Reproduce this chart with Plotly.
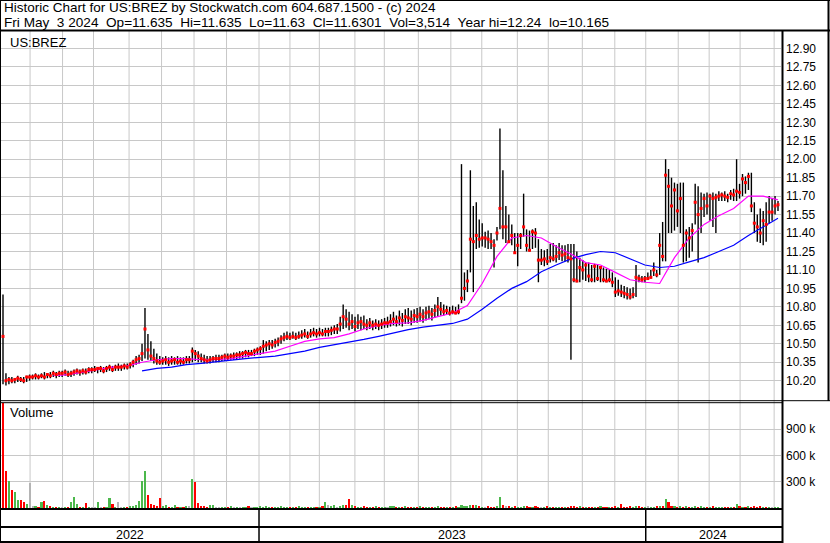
import numpy as np
import pandas as pd
import plotly.graph_objects as go

W, H = 830, 543

# ---------------- data (about 2 trading days per bar) ----------------
hi = [
    10.90, 10.26, 10.23, 10.23, 10.22, 10.24, 10.23, 10.23, 10.24, 10.25,
    10.25, 10.26, 10.25, 10.26, 10.27, 10.26, 10.27, 10.28, 10.27, 10.28,
    10.28, 10.29, 10.28, 10.28, 10.29, 10.30, 10.29, 10.30, 10.30, 10.31,
    10.31, 10.32, 10.31, 10.32, 10.31, 10.32, 10.33, 10.32, 10.33, 10.34,
    10.33, 10.34, 10.34, 10.35, 10.37, 10.40, 10.41, 10.50, 10.79, 10.58,
    10.52, 10.46, 10.42, 10.40, 10.39, 10.40, 10.39, 10.40, 10.39, 10.40,
    10.39, 10.39, 10.40, 10.40, 10.47, 10.45, 10.44, 10.42, 10.41, 10.40,
    10.40, 10.40, 10.41, 10.41, 10.41, 10.42, 10.42, 10.42, 10.43, 10.43,
    10.44, 10.44, 10.45, 10.45, 10.45, 10.46, 10.47, 10.48, 10.53, 10.52,
    10.53, 10.53, 10.54, 10.55, 10.57, 10.59, 10.60, 10.59, 10.60, 10.59,
    10.60, 10.61, 10.62, 10.60, 10.62, 10.63, 10.62, 10.63, 10.62, 10.63,
    10.63, 10.64, 10.65, 10.66, 10.72, 10.82, 10.78, 10.76, 10.74, 10.72,
    10.74, 10.72, 10.73, 10.70, 10.71, 10.69, 10.70, 10.69, 10.70, 10.71,
    10.72, 10.74, 10.76, 10.73, 10.77, 10.75, 10.78, 10.79, 10.77, 10.78,
    10.79, 10.80, 10.78, 10.80, 10.81, 10.79, 10.82, 10.88, 10.84, 10.82,
    10.81, 10.80, 10.81, 10.80, 10.82, 11.96, 11.08, 11.10, 11.91, 11.62,
    11.65, 11.51, 11.48, 11.41, 11.42, 11.40, 11.35, 11.45, 12.25, 11.91,
    11.62, 11.55, 11.47, 11.40, 11.40, 11.40, 11.72, 11.43, 11.42, 11.43,
    11.44, 11.35, 11.27, 11.26, 11.27, 11.31, 11.32, 11.30, 11.32, 11.30,
    11.30, 11.31, 11.31, 11.31, 11.25, 11.20, 11.18, 11.16, 11.16, 11.14,
    11.15, 11.14, 11.13, 11.12, 11.11, 11.10, 11.08, 11.04, 11.02, 10.98,
    10.97, 10.96, 10.95, 10.96, 11.14, 11.06, 11.05, 11.05, 11.08, 11.10,
    11.16, 11.10, 11.40, 11.49, 12.00, 11.92, 11.85, 11.81, 11.80, 11.81,
    11.81, 11.43, 11.45, 11.48, 11.80, 11.78, 11.73, 11.72, 11.73, 11.72,
    11.73, 11.72, 11.74, 11.73, 11.74, 11.72, 11.75, 11.76, 12.00, 11.80,
    11.88, 11.86, 11.89, 11.89, 11.65, 11.55, 11.60, 11.58, 11.65, 11.70,
    11.68, 11.70, 11.66,
]
lo = [
    10.17, 10.16, 10.17, 10.18, 10.18, 10.19, 10.19, 10.18, 10.19, 10.20,
    10.21, 10.21, 10.21, 10.22, 10.21, 10.22, 10.22, 10.23, 10.22, 10.23,
    10.23, 10.24, 10.23, 10.23, 10.24, 10.25, 10.24, 10.25, 10.25, 10.26,
    10.26, 10.27, 10.26, 10.27, 10.26, 10.27, 10.28, 10.27, 10.28, 10.28,
    10.28, 10.29, 10.29, 10.30, 10.31, 10.33, 10.34, 10.36, 10.38, 10.37,
    10.36, 10.34, 10.33, 10.33, 10.33, 10.33, 10.32, 10.33, 10.33, 10.33,
    10.33, 10.33, 10.34, 10.34, 10.35, 10.36, 10.35, 10.35, 10.34, 10.34,
    10.34, 10.35, 10.35, 10.35, 10.36, 10.36, 10.36, 10.37, 10.37, 10.37,
    10.38, 10.38, 10.39, 10.39, 10.40, 10.40, 10.41, 10.41, 10.42, 10.44,
    10.45, 10.46, 10.47, 10.48, 10.50, 10.52, 10.53, 10.53, 10.54, 10.53,
    10.54, 10.54, 10.55, 10.54, 10.55, 10.56, 10.55, 10.56, 10.56, 10.56,
    10.56, 10.57, 10.58, 10.58, 10.60, 10.62, 10.63, 10.61, 10.62, 10.60,
    10.62, 10.61, 10.62, 10.61, 10.62, 10.61, 10.62, 10.61, 10.62, 10.63,
    10.63, 10.64, 10.65, 10.64, 10.65, 10.64, 10.66, 10.66, 10.65, 10.67,
    10.67, 10.68, 10.67, 10.69, 10.70, 10.69, 10.71, 10.72, 10.73, 10.73,
    10.74, 10.73, 10.74, 10.74, 10.74, 10.83, 10.85, 10.92, 11.08, 10.92,
    11.27, 11.28, 11.29, 11.28, 11.27, 11.27, 11.12, 11.34, 11.43, 11.35,
    11.32, 11.32, 11.30, 11.24, 11.13, 11.27, 11.37, 11.25, 11.25, 11.27,
    11.28, 11.00, 11.14, 11.13, 11.14, 11.16, 11.17, 11.16, 11.18, 11.17,
    11.17, 11.16, 10.37, 11.00, 11.00, 11.00, 11.02, 11.01, 11.00, 11.00,
    11.00, 11.01, 11.00, 11.00, 11.00, 11.00, 10.96, 10.88, 10.89, 10.88,
    10.87, 10.86, 10.86, 10.87, 10.88, 11.00, 11.00, 11.00, 11.02, 11.03,
    11.05, 11.04, 11.06, 11.17, 11.17, 11.40, 11.40, 11.42, 11.45, 11.40,
    11.16, 11.17, 11.20, 11.25, 11.47, 11.16, 11.40, 11.53, 11.55, 11.50,
    11.45, 11.40, 11.66, 11.66, 11.66, 11.65, 11.67, 11.66, 11.66, 11.68,
    11.70, 11.72, 11.75, 11.57, 11.40, 11.33, 11.32, 11.30, 11.33, 11.48,
    11.50, 11.55, 11.58,
]
cl = [
    10.56, 10.20, 10.21, 10.20, 10.21, 10.22, 10.21, 10.20, 10.23, 10.23,
    10.23, 10.24, 10.23, 10.24, 10.23, 10.25, 10.24, 10.26, 10.25, 10.26,
    10.26, 10.27, 10.25, 10.26, 10.27, 10.28, 10.27, 10.28, 10.27, 10.29,
    10.29, 10.29, 10.30, 10.30, 10.28, 10.30, 10.31, 10.29, 10.31, 10.31,
    10.31, 10.32, 10.31, 10.33, 10.35, 10.37, 10.38, 10.42, 10.62, 10.45,
    10.40, 10.38, 10.36, 10.35, 10.36, 10.37, 10.35, 10.36, 10.37, 10.35,
    10.36, 10.35, 10.37, 10.37, 10.44, 10.42, 10.40, 10.38, 10.37, 10.36,
    10.37, 10.38, 10.38, 10.38, 10.39, 10.40, 10.39, 10.40, 10.40, 10.41,
    10.41, 10.42, 10.43, 10.42, 10.42, 10.44, 10.45, 10.46, 10.48, 10.49,
    10.50, 10.49, 10.51, 10.52, 10.54, 10.55, 10.56, 10.55, 10.56, 10.55,
    10.56, 10.57, 10.58, 10.56, 10.58, 10.59, 10.58, 10.59, 10.58, 10.60,
    10.60, 10.61, 10.62, 10.62, 10.66, 10.72, 10.70, 10.66, 10.68, 10.64,
    10.67, 10.68, 10.66, 10.65, 10.67, 10.65, 10.66, 10.65, 10.66, 10.67,
    10.67, 10.68, 10.70, 10.68, 10.71, 10.69, 10.72, 10.71, 10.70, 10.73,
    10.72, 10.74, 10.72, 10.75, 10.76, 10.74, 10.77, 10.80, 10.78, 10.76,
    10.77, 10.75, 10.76, 10.75, 10.76, 10.87, 10.95, 11.01, 11.35, 11.33,
    11.38, 11.35, 11.36, 11.36, 11.35, 11.33, 11.30, 11.40, 11.60, 11.45,
    11.45, 11.33, 11.38, 11.24, 11.30, 11.38, 11.45, 11.30, 11.26, 11.41,
    11.40, 11.18, 11.18, 11.19, 11.17, 11.20, 11.19, 11.21, 11.24, 11.22,
    11.23, 11.20, 11.19, 11.02, 11.01, 11.12, 11.10, 11.14, 11.05, 11.02,
    11.13, 11.03, 11.12, 11.02, 11.01, 11.02, 11.00, 10.92, 10.93, 10.92,
    10.91, 10.90, 10.88, 10.90, 11.04, 11.03, 11.02, 11.03, 11.03, 11.04,
    11.10, 11.06, 11.30, 11.21, 11.87, 11.78, 11.62, 11.75, 11.58, 11.68,
    11.30, 11.40, 11.36, 11.42, 11.65, 11.55, 11.60, 11.68, 11.62, 11.70,
    11.68, 11.69, 11.70, 11.71, 11.70, 11.69, 11.72, 11.71, 11.74, 11.73,
    11.84, 11.81, 11.86, 11.62, 11.48, 11.45, 11.40, 11.50, 11.47, 11.57,
    11.57, 11.62, 11.63,
]
vol_k = [
    1500, 420, 310, 210, 183, 90, 95, 65, 45, 286,
    15, 12, 10, 72, 84, 35, 20, 8, 6, 10,
    8, 5, 10, 72, 126, 45, 8, 6, 60, 8,
    6, 10, 72, 8, 5, 9, 115, 50, 8, 72,
    10, 6, 8, 12, 15, 40, 84, 305, 420, 150,
    50, 30, 20, 115, 20, 40, 10, 8, 40, 10,
    10, 8, 12, 20, 330, 298, 60, 15, 12, 10,
    30, 40, 8, 6, 10, 5, 8, 12, 6, 9,
    8, 10, 6, 12, 8, 5, 10, 14, 8, 12,
    6, 8, 10, 5, 12, 9, 6, 10, 8, 7,
    12, 8, 10, 6, 9, 11, 7, 10, 15, 70,
    30, 25, 30, 10, 15, 30, 30, 100, 30, 12,
    10, 8, 12, 6, 10, 8, 14, 9, 7, 10,
    8, 12, 20, 9, 10, 7, 12, 8, 10, 6,
    9, 12, 8, 10, 6, 11, 9, 14, 10, 8,
    10, 6, 8, 12, 9, 30, 15, 12, 35, 30,
    30, 12, 10, 8, 14, 9, 10, 12, 125, 30,
    20, 12, 10, 20, 8, 10, 20, 12, 9, 10,
    20, 8, 10, 6, 12, 8, 10, 7, 9, 11,
    8, 10, 25, 15, 10, 12, 8, 10, 6, 9,
    10, 8, 15, 9, 11, 7, 10, 12, 8, 45,
    10, 8, 12, 9, 14, 15, 10, 8, 12, 9,
    10, 12, 18, 15, 100, 70, 20, 12, 10, 20,
    10, 12, 9, 8, 14, 10, 12, 8, 9, 10,
    12, 8, 10, 7, 9, 11, 8, 10, 45, 12,
    10, 9, 12, 8, 15, 10, 12, 9, 8, 10,
    8, 10, 4,
]
# moving averages, one value every MA_STEP bars
MA_STEP = 5
ma_fast_start = 17
ma_fast = [
    10.24, 10.25, 10.27, 10.29, 10.31, 10.32, 10.35, 10.37, 10.38, 10.38,
    10.37, 10.37, 10.38, 10.40, 10.42, 10.44, 10.48, 10.52, 10.54, 10.55,
    10.58, 10.62, 10.65, 10.665, 10.67, 10.69, 10.72, 10.75, 10.81, 10.99,
    11.21, 11.36, 11.38, 11.36, 11.29, 11.23, 11.16, 11.14, 11.08, 11.02,
    11.00, 10.99, 11.20, 11.36, 11.47, 11.54, 11.60, 11.70, 11.70, 11.67,
]
ma_slow_start = 47
ma_slow = [
    10.28, 10.30, 10.31, 10.33, 10.34, 10.355, 10.37, 10.38, 10.39, 10.40,
    10.42, 10.44, 10.47, 10.49, 10.51, 10.535, 10.56, 10.59, 10.615, 10.635,
    10.65, 10.665, 10.70, 10.78, 10.87, 10.95, 11.005, 11.085, 11.14, 11.19,
    11.225, 11.25, 11.24, 11.19, 11.14, 11.12, 11.13, 11.165, 11.20, 11.25,
    11.30, 11.38, 11.45, 11.52,
]
price_ticks = [round(10.20 + 0.15 * k, 2) for k in range(19)]
vol_tickvals = [300000, 600000, 900000]
vol_ticktext = ["300 k", "600 k", "900 k"]
years = ["2022", "2023", "2024"]

# trading calendar of the chart (first and last bar, exchange holidays)
first_day, last_day = "2022-05-05", "2024-05-03"
holidays = ["2022-05-30", "2022-06-20", "2022-07-04", "2022-09-05", "2022-11-24", "2022-12-26",
            "2023-01-02", "2023-01-16", "2023-02-20", "2023-04-07", "2023-05-29", "2023-06-19",
            "2023-07-04", "2023-09-04", "2023-11-23", "2023-12-25", "2024-01-01", "2024-01-15",
            "2024-02-19", "2024-03-29"]

SP2 = "\u00a0\u00a0"
header1 = "Historic Chart for US:BREZ by Stockwatch.com 604.687.1500 - (c) 2024"
header2 = SP2.join(["Fri May", "3 2024", "Op=11.635", "Hi=11.635", "Lo=11.63",
                    "Cl=11.6301", "Vol=3,514", "Year hi=12.24", "lo=10.165"])

# ---------------- geometry helpers ----------------
N = min(len(hi), len(lo), len(cl), len(vol_k))
hi, lo, cl, vol_k = hi[:N], lo[:N], cl[:N], vol_k[:N]
idx = list(range(N))
tdays = pd.bdate_range(first_day, last_day, freq="C", holidays=holidays)
ratio = (N - 1) / (len(tdays) - 1)   # bars per trading day


def day_pos(ts):
    k = int(np.searchsorted(tdays.values, np.datetime64(ts)))
    return (k - 0.5) * ratio


def px(x):
    return x / W


def py(y):
    return 1 - y / H


X_LEFT, X_RIGHT = 1, 781
FIRST, LAST = 3, 778
scale = (LAST - FIRST) / (N - 1)
r0 = -(FIRST - X_LEFT) / scale
r1 = r0 + (X_RIGHT - X_LEFT) / scale

# ---------------- traces ----------------
xs, ys = [], []
for i in idx:
    xs += [i, i, None]
    ys += [lo[i], hi[i], None]

vol = [v * 1000 for v in vol_k]
vcol = []
for i in idx:
    if i == 0 or cl[i] < cl[i - 1]:
        vcol.append("#FF0000")
    elif cl[i] > cl[i - 1]:
        vcol.append("#4CB84C")
    else:
        vcol.append("#B4B4B4")

fast_x = [ma_fast_start + MA_STEP * k for k in range(len(ma_fast))]
slow_x = [ma_slow_start + MA_STEP * k for k in range(len(ma_slow))]

fig = go.Figure()
fig.add_trace(go.Scatter(x=xs, y=ys, mode="lines", line=dict(color="black", width=1.4),
                         xaxis="x", yaxis="y", hoverinfo="skip", showlegend=False))
fig.add_trace(go.Scatter(x=slow_x, y=ma_slow, mode="lines", line=dict(color="#0000FF", width=1.2),
                         xaxis="x", yaxis="y", showlegend=False))
fig.add_trace(go.Scatter(x=fast_x, y=ma_fast, mode="lines", line=dict(color="#FF00FF", width=1.2),
                         xaxis="x", yaxis="y", showlegend=False))
fig.add_trace(go.Scatter(x=idx, y=cl, mode="markers",
                         marker=dict(symbol="square", size=3, color="#FF0000", line=dict(width=0)),
                         xaxis="x", yaxis="y", showlegend=False))
fig.add_trace(go.Bar(x=idx, y=vol, marker=dict(color=vcol, line=dict(width=0)), width=0.72,
                     xaxis="x2", yaxis="y2", showlegend=False))

# ---------------- month grid / year boundaries ----------------
shapes = []
months = pd.date_range("2022-06-01", "2024-05-01", freq="MS")
for m in months:
    mp = day_pos(m)
    shapes.append(dict(type="line", xref="x", yref="paper", x0=mp, x1=mp,
                       y0=py(508), y1=py(31), line=dict(color="#C8C8C8", width=1), layer="below"))

year_pos = [day_pos(pd.Timestamp(f"{y}-01-01")) for y in years[1:]]
for yp in year_pos:
    shapes.append(dict(type="line", xref="x", yref="paper", x0=yp, x1=yp,
                       y0=py(509), y1=py(542), line=dict(color="black", width=1.5)))


def hline(y, x0, x1, w):
    shapes.append(dict(type="line", xref="paper", yref="paper", x0=px(x0), x1=px(x1),
                       y0=py(y), y1=py(y), line=dict(color="black", width=w)))


def vline(x, y0, y1, w):
    shapes.append(dict(type="line", xref="paper", yref="paper", x0=px(x), x1=px(x),
                       y0=py(y0), y1=py(y1), line=dict(color="black", width=w)))


hline(0.5, 0, 830, 1)
hline(30.5, 0, 830, 2)
hline(400.7, 0, 830, 1)
hline(402.7, 0, 782, 1)
hline(509, 0, 782, 2)
hline(527, 0, 782, 2)
hline(542, 0, 782, 2)
vline(0.5, 0, 543, 1)
vline(828.5, 0, 401, 2)
vline(782.5, 30, 543, 2)

# ---------------- annotations ----------------
FAM = "Liberation Sans, Arial, sans-serif"
font = dict(family=FAM, size=12, color="black")
tfont = dict(family=FAM, size=13, color="black")


def text(t, x, y, f):
    return dict(text=t, x=px(x), y=py(y), xref="paper", yref="paper", xanchor="left",
                yanchor="middle", showarrow=False, font=f)


ann = [text(header1, 2, 8, dict(family=FAM, size=13.5, color="black")),
       text(header2, 2, 22.5, dict(family=FAM, size=13.6, color="black")),
       text("US:BREZ", 8, 42, tfont), text("Volume", 8, 413, tfont)]
edges = [r0] + year_pos + [r1]
for k, label in enumerate(years):
    ann.append(dict(text=label, x=(edges[k] + edges[k + 1]) / 2, y=py(534.5), xref="x", yref="paper",
                    xanchor="center", yanchor="middle", showarrow=False,
                    font=dict(family=FAM, size=12.5, color="black")))

fig.update_layout(
    width=W, height=H,
    margin=dict(l=0, r=0, t=0, b=0),
    paper_bgcolor="white", plot_bgcolor="rgba(0,0,0,0)",
    showlegend=False, bargap=0,
    xaxis=dict(domain=[px(X_LEFT), px(X_RIGHT)], range=[r0, r1], showticklabels=False,
               showgrid=False, zeroline=False, showline=False, anchor="y", fixedrange=True),
    xaxis2=dict(domain=[px(X_LEFT), px(X_RIGHT)], range=[r0, r1], matches="x", showticklabels=False,
                showgrid=False, zeroline=False, showline=False, anchor="y2"),
    yaxis=dict(domain=[py(400), py(31)], range=[10.043, 13.042], side="right", anchor="x",
               tickvals=price_ticks, ticktext=[f"{v:.2f}" for v in price_ticks],
               showgrid=True, gridcolor="#C8C8C8", gridwidth=1, zeroline=False, ticks="",
               ticklabelstandoff=4, tickfont=font),
    yaxis2=dict(domain=[py(508), py(403)], range=[0, 1200000], side="right", anchor="x2",
                tickvals=vol_tickvals, ticktext=vol_ticktext,
                showgrid=True, gridcolor="#C8C8C8", gridwidth=1, zeroline=False, ticks="",
                ticklabelstandoff=4, tickfont=font),
    shapes=shapes,
    annotations=ann,
)

fig.write_html("out.html", config={"displayModeBar": False},
               post_script="document.body.style.margin='0';document.body.style.padding='0';")
